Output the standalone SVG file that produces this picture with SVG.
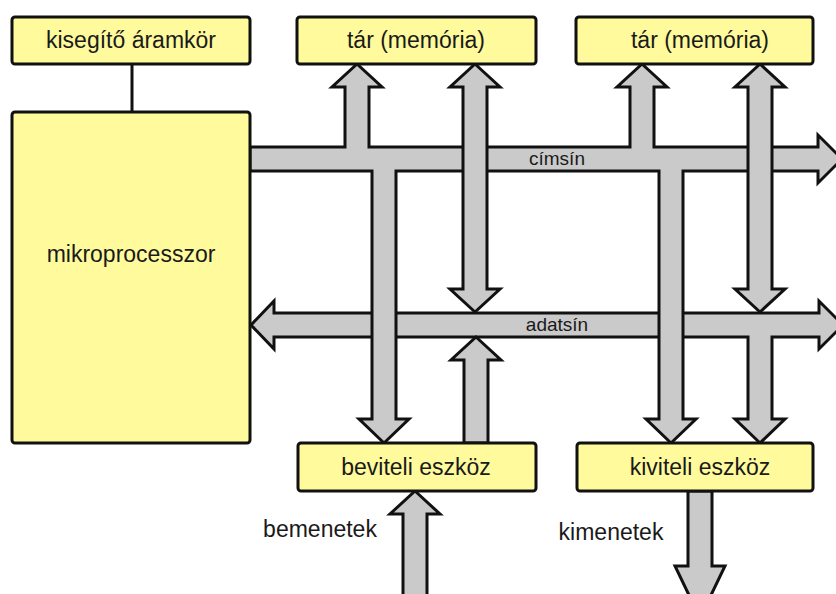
<svg xmlns="http://www.w3.org/2000/svg" width="836" height="594" viewBox="0 0 836 594">
  <style>
    .box { fill: #FFFA9C; stroke: #111; stroke-width: 3; }
    .bus { fill: #CACACA; stroke: #111; stroke-width: 3; stroke-linejoin: miter; }
    .lbl { font-family: "Liberation Sans", Arial, sans-serif; font-size: 23px; fill: #1a1a1a; text-anchor: middle; }
    .small { font-family: "Liberation Sans", Arial, sans-serif; font-size: 19px; fill: #1a1a1a; text-anchor: middle; }
    .wire { stroke: #111; stroke-width: 3; fill: none; }
  </style>
  <rect width="836" height="594" fill="#fff"/>

  <g id="connectors">
    <!-- support circuit to CPU -->
    <line class="wire" x1="132" y1="64" x2="132" y2="112"/>
    <!-- data bus with branch down to the output device -->
    <path id="adatsin" class="bus" d="M251,325 L274,301 L274,313 L819,313 L819,301 L843,325 L819,349 L819,337 L772,337 L772,419 L785,419 L760,443 L735,419 L748,419 L748,337 L274,337 L274,349 Z"/>
    <!-- address bus with branches to memories and devices -->
    <path id="cimsin" class="bus" d="M250,147 L345,147 L345,87 L332,87 L357,64 L382,87 L369,87 L369,147 L630,147 L630,87 L617,87 L642,64 L667,87 L654,87 L654,147 L818,147 L818,135 L842,159 L818,183 L818,171 L683,171 L683,419 L696,419 L671,443 L646,419 L659,419 L659,171 L396,171 L396,419 L409,419 L384,443 L359,419 L372,419 L372,171 L250,171 Z"/>
    <!-- memory data links (bidirectional) -->
    <path class="bus" d="M475,64 L500,87 L487,87 L487,289 L500,289 L475,312 L450,289 L463,289 L463,87 L450,87 Z"/>
    <path class="bus" d="M760,64 L785,87 L772,87 L772,289 L785,289 L760,312 L735,289 L748,289 L748,87 L735,87 Z"/>
    <!-- input device to data bus -->
    <path class="bus" d="M476,337 L501,360 L488,360 L488,443 L464,443 L464,360 L451,360 Z"/>
    <!-- external inputs / outputs -->
    <path class="bus" d="M415,491 L440,514 L427,514 L427,600 L403,600 L403,514 L390,514 Z"/>
    <path class="bus" d="M688,491 L712,491 L712,566 L725,566 L700,618 L675,566 L688,566 Z"/>
    <text class="small" x="557" y="165">címsín</text>
    <text class="small" x="557" y="331">adatsín</text>
  </g>

  <g id="kisegito">
    <rect class="box" x="12" y="17" width="238" height="47" rx="3"/>
    <text class="lbl" x="131" y="48">kisegítő áramkör</text>
  </g>
  <g id="mikroprocesszor">
    <rect class="box" x="12" y="112" width="238" height="331" rx="3"/>
    <text class="lbl" x="131" y="262">mikroprocesszor</text>
  </g>
  <g id="tar1">
    <rect class="box" x="297" y="17" width="239" height="47" rx="3"/>
    <text class="lbl" x="416" y="48">tár (memória)</text>
  </g>
  <g id="tar2">
    <rect class="box" x="576" y="17" width="237" height="47" rx="3"/>
    <text class="lbl" x="700" y="48">tár (memória)</text>
  </g>
  <g id="beviteli">
    <rect class="box" x="298" y="443" width="238" height="48" rx="3"/>
    <text class="lbl" x="416" y="475">beviteli eszköz</text>
  </g>
  <g id="kiviteli">
    <rect class="box" x="577" y="443" width="236" height="48" rx="3"/>
    <text class="lbl" x="700" y="475">kiviteli eszköz</text>
  </g>
  <g id="io-labels">
    <text class="lbl" x="320" y="537">bemenetek</text>
    <text class="lbl" x="611" y="540">kimenetek</text>
  </g>
</svg>
